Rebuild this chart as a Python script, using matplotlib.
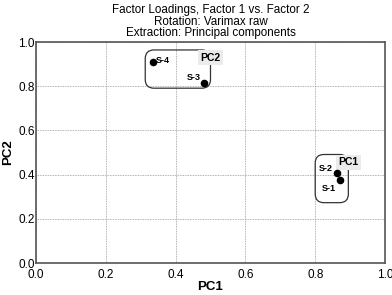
import matplotlib
matplotlib.use('Agg')
import matplotlib.pyplot as plt
from matplotlib.patches import FancyBboxPatch

plt.rcParams['font.family'] = ['Liberation Sans', 'DejaVu Sans']

# factor loadings
names = ['S-1', 'S-2', 'S-3', 'S-4']
pc1 = [0.871, 0.863, 0.481, 0.336]
pc2 = [0.377, 0.408, 0.815, 0.909]

# groups drawn as rounded boxes
groups = ['PC1', 'PC2']
group_x = [(0.800, 0.895), (0.313, 0.500)]
group_y = [(0.273, 0.491), (0.791, 0.964)]

ticks = [0.0, 0.2, 0.4, 0.6, 0.8, 1.0]

fig = plt.figure(figsize=(3.92, 2.95), dpi=100)
ax = fig.add_axes([36 / 392, 32 / 295, 349 / 392, 221 / 295])

ax.set_xlim(0, 1)
ax.set_ylim(0, 1)
ax.set_xticks(ticks)
ax.set_yticks(ticks)
ax.set_xticklabels(['%.1f' % t for t in ticks])
ax.set_yticklabels(['%.1f' % t for t in ticks])
ax.tick_params(length=0, labelsize=8.5)
ax.tick_params(axis='y', pad=1)
ax.tick_params(axis='x', pad=4)
ax.grid(True, linestyle=(0, (1, 1)), color='#999999', linewidth=0.6)
for s in ax.spines.values():
    s.set_color('#555555')
    s.set_linewidth(1.2)

aspect = 349 / 221
for g, (x0, x1), (y0, y1) in zip(groups, group_x, group_y):
    box = FancyBboxPatch((x0, y0), x1 - x0, y1 - y0,
                         boxstyle='round,pad=0,rounding_size=0.025',
                         mutation_aspect=aspect,
                         fc='none', ec='#333333', lw=0.9, zorder=3)
    ax.add_patch(box)
    ax.text(x1, y1 - 0.012, g, fontsize=7.5, fontweight='bold', ha='center', va='top',
            bbox=dict(boxstyle='square,pad=0.25', fc='#ebebeb', ec='none'), zorder=4)

ax.scatter(pc1, pc2, s=20, color='black', zorder=5)
offsets = {'S-1': (-3, -6, 'right'), 'S-2': (-3, 3, 'right'),
           'S-3': (-2, 4, 'right'), 'S-4': (2, 1, 'left')}
for n, x, y in zip(names, pc1, pc2):
    dx, dy, ha = offsets[n]
    ax.annotate(n, (x, y), xytext=(dx, dy), textcoords='offset points',
                fontsize=6.5, fontweight='bold', ha=ha, va='center', zorder=6)

ax.set_xlabel('PC1', fontsize=9.5, fontweight='bold', labelpad=0)
ax.set_ylabel('PC2', fontsize=9.5, fontweight='bold', labelpad=3)
ax.set_title('Factor Loadings, Factor 1 vs. Factor 2\nRotation: Varimax raw\nExtraction: Principal components',
             fontsize=8.4, linespacing=0.98, pad=4)

fig.savefig('out.png', dpi=100)
